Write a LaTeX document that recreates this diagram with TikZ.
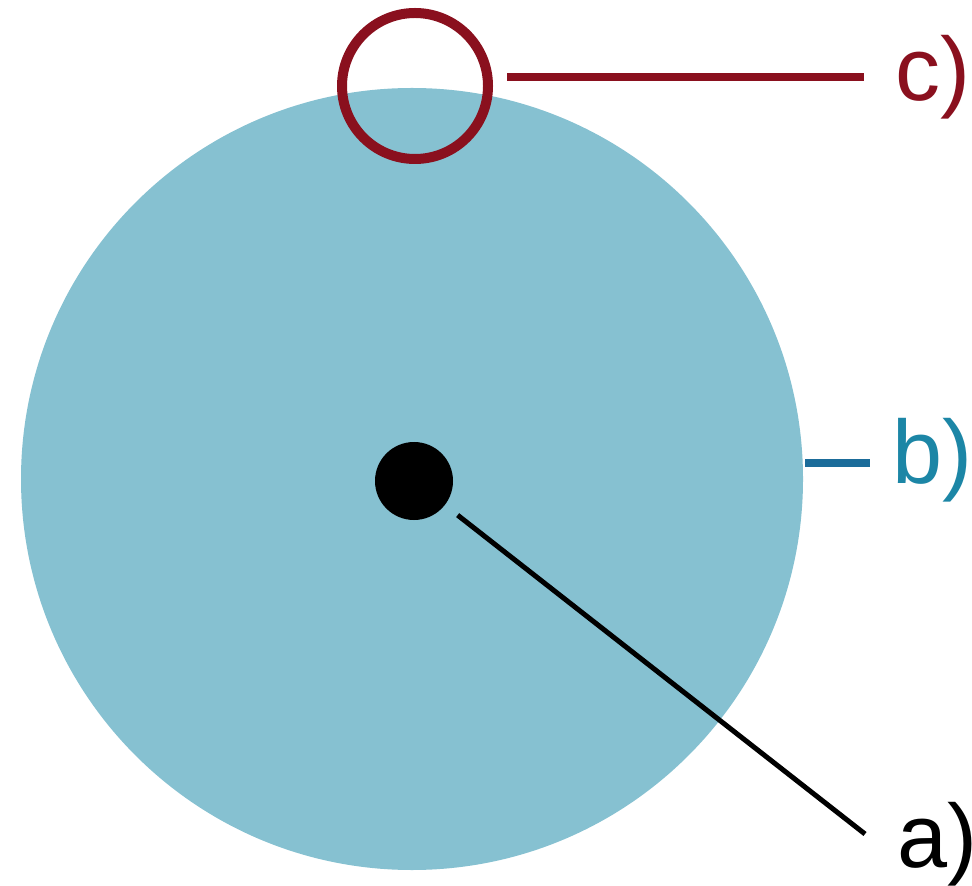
\documentclass[tikz,border=0pt]{standalone}
\usepackage{fontspec}
\setmainfont{Liberation Sans}
\usepackage{xcolor}
\usetikzlibrary{positioning, calc}
\definecolor{DiscBlue}{RGB}{134, 193, 209}
\definecolor{RimRed}{RGB}{138, 16, 30}
\definecolor{EdgeBlue}{RGB}{27, 108, 154}
\definecolor{LabelBlue}{RGB}{28, 134, 166}
\tikzset{
  disc/.style={circle, fill=DiscBlue, minimum size=391pt, inner sep=0pt},
  centredot/.style={circle, fill=black, minimum size=39pt, inner sep=0pt},
  rim/.style={circle, draw=RimRed, line width=5pt, minimum size=73pt, inner sep=0pt},
  partlabel/.style={anchor=base west, inner sep=0pt, font=\fontsize{45}{48}\selectfont}
}

\begin{document}
\begin{tikzpicture}[x=0.5pt,y=-0.5pt]
  \path[use as bounding box] (0,0) rectangle (972,886);
  \fill[white] (0,0) rectangle (972,886);

  % disc with its centre point
  \node[disc] (disc) at (412,479) {};
  \node[centredot] (dot) at (414,481) {};

  % marked spot on the rim
  \node[rim] (ring) at (415,86) {};

  % labels
  \node[partlabel, text=black] (la) at (897,867) {a)};
  \node[partlabel, text=LabelBlue] (lb) at (892,483) {b)};
  \node[partlabel, text=RimRed] (lc) at (895,101) {c)};

  % leader lines
  \coordinate (aend) at (865,834);
  \coordinate (bstart) at (805,463);
  \coordinate (bend) at (870,463);
  \coordinate (cstart) at (507,77);
  \coordinate (cend) at (864,77);
  \draw[black, line width=2.5pt, shorten <=8pt] (dot) -- (aend);
  \draw[EdgeBlue, line width=3.5pt] (bstart) -- (bend);
  \draw[RimRed, line width=4pt] (cstart) -- (cend);
\end{tikzpicture}
\end{document}
